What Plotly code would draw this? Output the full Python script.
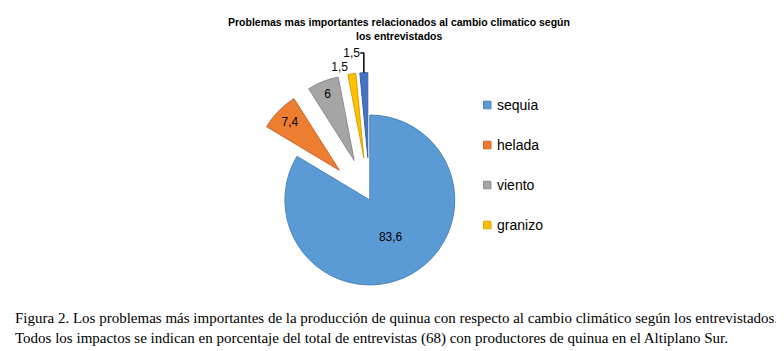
import plotly.graph_objects as go

labels = ["sequia", "helada", "viento", "granizo", "otros"]
values = [83.6, 7.4, 6, 1.5, 1.5]
legend_labels = ["sequia", "helada", "viento", "granizo"]

colors = ["#5B9BD5", "#ED7D31", "#A5A5A5", "#FFC000", "#4472C4"]
edge_colors = ["#4A84BC", "#C9652A", "#8C8C8C", "#D9A300", "#3A62A8"]
pulls = [0, 0.5, 0.5, 0.5, 0.5]
text_pos = ["inside", "inside", "inside", "outside", "outside"]

title_lines = ["Problemas mas importantes relacionados al cambio climatico según",
               "los entrevistados"]
caption_lines = [
    "Figura 2. Los problemas más importantes de la producción de quinua con respecto al cambio climático según los entrevistados.",
    "Todos los impactos se indican en porcentaje del total de entrevistas (68) con productores de quinua en el Altiplano Sur.",
]

W, H = 784, 351


def px(x):
    return x / W


def py(y):
    return 1 - y / H


fig = go.Figure()
fig.add_trace(go.Pie(
    labels=labels, values=values, sort=False, direction="clockwise", rotation=0,
    pull=pulls, marker=dict(colors=colors, line=dict(color=edge_colors, width=1)),
    textinfo="value", textposition=text_pos, insidetextorientation="horizontal",
    textfont=dict(family="Liberation Sans", size=12, color="#000000"),
    showlegend=False,
    domain=dict(x=[0.299, 0.624], y=[0.090, 0.816]),
))

annotations = []
shapes = []

# title
for i, line in enumerate(title_lines):
    annotations.append(dict(
        text="<b>" + line + "</b>", x=px(391), y=py(14 + 14 * i), xref="paper", yref="paper",
        xanchor="center", yanchor="middle", showarrow=False,
        font=dict(family="Liberation Sans", size=10.5, color="#000000")))

# legend (first four categories)
for i, (name, c, ec) in enumerate(zip(legend_labels, colors, edge_colors)):
    yc = 97 + 40 * i
    shapes.append(dict(type="rect", xref="paper", yref="paper",
                       x0=px(475.5), x1=px(483), y0=py(yc - 3.75), y1=py(yc + 3.75),
                       fillcolor=c, line=dict(color=ec, width=1)))
    annotations.append(dict(
        text=name, x=px(487), y=py(yc), xref="paper", yref="paper",
        xanchor="left", yanchor="middle", showarrow=False,
        font=dict(family="Liberation Sans", size=14, color="#000000")))

# caption
for i, line in enumerate(caption_lines):
    annotations.append(dict(
        text=line, x=px(5), y=py(310 + 20 * i), xref="paper", yref="paper",
        xanchor="left", yanchor="middle", showarrow=False,
        font=dict(family="Liberation Serif", size=15, color="#000000")))

fig.update_layout(
    width=W, height=H, margin=dict(l=0, r=0, t=0, b=0, autoexpand=False),
    paper_bgcolor="white", plot_bgcolor="white",
    separators=",.",
    showlegend=False,
    annotations=annotations, shapes=shapes,
)

fig.write_html("out.html")
